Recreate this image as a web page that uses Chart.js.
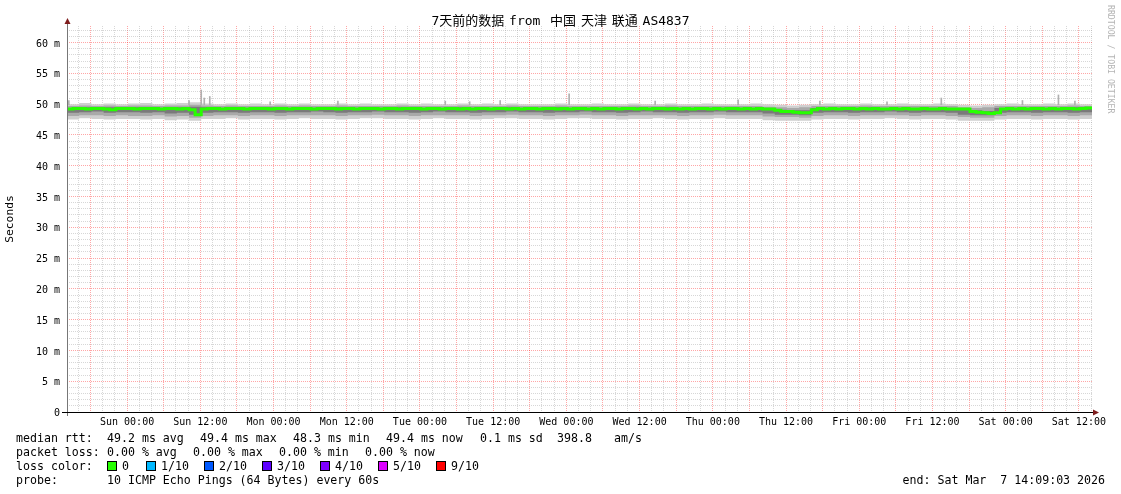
<!DOCTYPE html>
<html>
<head>
<meta charset="utf-8">
<script src="https://cdn.jsdelivr.net/npm/chart.js@4/dist/chart.umd.min.js"></script>
<style>
  body { margin: 0; background: #fff; }
  #wrap { position: relative; width: 1121px; height: 494px; overflow: hidden; font-family: "DejaVu Sans Mono", monospace; color: #000; }
  #c { position: absolute; left: 0; top: 0; }
  #title { position: absolute; left: 0; top: 13px; width: 1121px; text-align: center; font-size: 13px; line-height: 16px; word-spacing: -3px; white-space: pre; font-family: "DejaVu Sans Mono", "Noto Sans CJK SC", monospace; }
  #credit { position: absolute; left: 1106px; top: 5px; writing-mode: vertical-rl; font-size: 8.2px; color: #b4b4b4; white-space: pre; }
  .t { position: absolute; white-space: pre; font-size: 11.6px; line-height: 14px; }
  .box { position: absolute; top: 461px; width: 8px; height: 8px; border: 1px solid #000; }
</style>
</head>
<body>
<div id="wrap">
  <canvas id="c" width="1121" height="494"></canvas>
  <div id="title">7天前的数据 from  中国 天津 联通 AS4837</div>
  <div id="credit">RRDTOOL / TOBI OETIKER</div>

  <span class="t" style="left:16px;top:431px">median rtt:</span>
  <span class="t" style="left:107px;top:431px">49.2 ms avg</span>
  <span class="t" style="left:200px;top:431px">49.4 ms max</span>
  <span class="t" style="left:293px;top:431px">48.3 ms min</span>
  <span class="t" style="left:386px;top:431px">49.4 ms now</span>
  <span class="t" style="left:480px;top:431px">0.1 ms sd</span>
  <span class="t" style="left:557px;top:431px">398.8</span>
  <span class="t" style="left:614px;top:431px">am/s</span>

  <span class="t" style="left:16px;top:445px">packet loss:</span>
  <span class="t" style="left:107px;top:445px">0.00 % avg</span>
  <span class="t" style="left:193px;top:445px">0.00 % max</span>
  <span class="t" style="left:279px;top:445px">0.00 % min</span>
  <span class="t" style="left:365px;top:445px">0.00 % now</span>

  <span class="t" style="left:16px;top:459px">loss color:</span>
  <div id="loss"></div>

  <span class="t" style="left:16px;top:473px">probe:</span>
  <span class="t" style="left:107px;top:473px">10 ICMP Echo Pings (64 Bytes) every 60s</span>
  <span class="t" style="right:16px;top:473px">end: Sat Mar  7 14:09:03 2026</span>
</div>
<script>
// time axis: hours since Sat 14:09:03 (7 days back from the end stamp)
const HOURS = 168;
const FIRST_MIDNIGHT = 9 + 50 / 60 + 57 / 3600; // Sun 00:00
const xTickLabels = ['Sun 00:00', 'Sun 12:00', 'Mon 00:00', 'Mon 12:00', 'Tue 00:00', 'Tue 12:00',
  'Wed 00:00', 'Wed 12:00', 'Thu 00:00', 'Thu 12:00', 'Fri 00:00', 'Fri 12:00', 'Sat 00:00', 'Sat 12:00'];
const yTickValues = [0, 5, 10, 15, 20, 25, 30, 35, 40, 45, 50, 55, 60];
const yTickLabels = ['0', '5 m', '10 m', '15 m', '20 m', '25 m', '30 m', '35 m', '40 m', '45 m', '50 m', '55 m', '60 m'];

// median rtt, one value per hour (ms)
const medianRtt = [
  49.3, 49.2, 49.3, 49.3, 49.2, 49.3, 49.3, 49.2, 49.1, 49.3,
  49.3, 49.3, 49.2, 49.3, 49.3, 49.3, 49.2, 49.3, 49.3, 49.2,
  49.3, 49.1, 48.3, 49.2, 49.3, 49.3, 49.2, 49.3, 49.3, 49.3,
  49.2, 49.3, 49.3, 49.3, 49.2, 49.3, 49.3, 49.2, 49.3, 49.3,
  49.3, 49.2, 49.3, 49.3, 49.3, 49.2, 49.3, 49.3, 49.2, 49.3,
  49.3, 49.3, 49.2, 49.3, 49.3, 49.2, 49.3, 49.3, 49.3, 49.2,
  49.3, 49.3, 49.2, 49.3, 49.3, 49.2, 49.3, 49.2, 49.3, 49.3,
  49.2, 49.3, 49.3, 49.2, 49.3, 49.2, 49.3, 49.3, 49.2, 49.3,
  49.3, 49.2, 49.3, 49.2, 49.3, 49.3, 49.2, 49.3, 49.2, 49.3,
  49.3, 49.2, 49.3, 49.3, 49.2, 49.3, 49.2, 49.3, 49.3, 49.2,
  49.3, 49.2, 49.3, 49.2, 49.3, 49.3, 49.2, 49.3, 49.2, 49.3,
  49.3, 49.2, 49.3, 49.2, 49.3, 49.2, 49.2, 49.0, 48.8, 48.8,
  48.7, 48.6, 48.6, 49.1, 49.3, 49.2, 49.3, 49.2, 49.3, 49.3,
  49.2, 49.3, 49.2, 49.3, 49.2, 49.2, 49.3, 49.2, 49.3, 49.2,
  49.2, 49.3, 49.2, 49.2, 49.3, 49.2, 49.2, 49.2, 49.2, 48.8,
  48.7, 48.6, 48.5, 48.6, 49.2, 49.3, 49.2, 49.3, 49.2, 49.3,
  49.3, 49.2, 49.3, 49.2, 49.3, 49.3, 49.2, 49.3, 49.4
];

// smoke (ping spread), one value every 2 hours (ms)
const smokeMax = [
  50.1, 50.0, 50.2, 50.0, 50.1, 50.0, 50.1, 50.2, 50.0, 50.1,
  50.2, 50.3, 50.1, 50.0, 50.1, 50.0, 50.1, 50.0, 50.1, 50.0,
  50.1, 50.0, 50.0, 50.1, 50.0, 50.1, 50.0, 50.0, 50.1, 50.0,
  50.1, 50.0, 50.0, 50.1, 50.0, 50.1, 50.0, 50.1, 50.0, 50.0,
  50.0, 50.1, 50.0, 50.0, 50.1, 50.0, 50.0, 50.1, 50.0, 50.0,
  50.1, 50.0, 50.0, 50.1, 50.0, 50.0, 50.0, 50.1, 50.0, 49.9,
  49.8, 49.9, 50.0, 50.1, 50.0, 50.0, 50.1, 50.0, 50.0, 50.1,
  50.0, 50.0, 50.1, 50.0, 49.9, 49.8, 49.9, 50.0, 50.1, 50.0,
  50.0, 50.1, 50.0, 50.1, 50.0
];
const smokeHigh = [
  49.8, 49.7, 49.8, 49.7, 49.8, 49.7, 49.8, 49.8, 49.7, 49.8,
  49.8, 49.9, 49.8, 49.7, 49.8, 49.7, 49.7, 49.7, 49.8, 49.7,
  49.8, 49.7, 49.7, 49.8, 49.7, 49.7, 49.7, 49.7, 49.8, 49.7,
  49.7, 49.7, 49.7, 49.8, 49.7, 49.7, 49.7, 49.8, 49.7, 49.7,
  49.7, 49.8, 49.7, 49.7, 49.7, 49.7, 49.7, 49.8, 49.7, 49.7,
  49.8, 49.7, 49.7, 49.7, 49.7, 49.7, 49.7, 49.7, 49.6, 49.5,
  49.4, 49.5, 49.7, 49.7, 49.7, 49.7, 49.8, 49.7, 49.7, 49.7,
  49.7, 49.7, 49.7, 49.7, 49.5, 49.4, 49.5, 49.7, 49.7, 49.7,
  49.7, 49.7, 49.7, 49.8, 49.7
];
const smokeUpper = [
  49.5, 49.4, 49.5, 49.4, 49.5, 49.4, 49.5, 49.5, 49.4, 49.5,
  49.5, 49.6, 49.5, 49.4, 49.5, 49.4, 49.4, 49.5, 49.5, 49.4,
  49.5, 49.4, 49.4, 49.5, 49.4, 49.4, 49.4, 49.4, 49.5, 49.4,
  49.4, 49.4, 49.4, 49.5, 49.4, 49.4, 49.4, 49.5, 49.4, 49.4,
  49.4, 49.5, 49.4, 49.4, 49.4, 49.4, 49.4, 49.5, 49.4, 49.4,
  49.5, 49.4, 49.4, 49.4, 49.4, 49.4, 49.4, 49.4, 49.3, 49.1,
  49.0, 49.0, 49.4, 49.4, 49.4, 49.4, 49.5, 49.4, 49.4, 49.4,
  49.4, 49.4, 49.4, 49.4, 49.1, 49.0, 48.9, 49.4, 49.4, 49.4,
  49.4, 49.4, 49.4, 49.5, 49.4
];
const smokeLower = [
  48.7, 48.6, 48.7, 48.8, 48.6, 48.7, 48.7, 48.6, 48.7, 48.5,
  48.6, 48.3, 48.6, 48.7, 48.7, 48.6, 48.7, 48.7, 48.6, 48.7,
  48.7, 48.8, 48.7, 48.6, 48.7, 48.7, 48.8, 48.7, 48.7, 48.6,
  48.7, 48.8, 48.7, 48.7, 48.6, 48.7, 48.7, 48.8, 48.7, 48.7,
  48.6, 48.7, 48.7, 48.8, 48.7, 48.7, 48.6, 48.7, 48.8, 48.7,
  48.7, 48.6, 48.7, 48.7, 48.8, 48.7, 48.7, 48.7, 48.5, 48.3,
  48.3, 48.2, 48.6, 48.7, 48.7, 48.6, 48.7, 48.7, 48.8, 48.7,
  48.6, 48.7, 48.7, 48.6, 48.3, 48.2, 48.2, 48.6, 48.7, 48.7,
  48.6, 48.7, 48.7, 48.6, 48.7
];
const smokeLow = [
  48.2, 48.1, 48.2, 48.2, 48.1, 48.2, 48.1, 48.1, 48.2, 48.0,
  48.1, 47.8, 48.1, 48.2, 48.2, 48.1, 48.2, 48.2, 48.1, 48.2,
  48.2, 48.2, 48.2, 48.1, 48.2, 48.2, 48.3, 48.2, 48.2, 48.1,
  48.2, 48.2, 48.2, 48.2, 48.1, 48.2, 48.2, 48.3, 48.2, 48.2,
  48.1, 48.2, 48.2, 48.3, 48.2, 48.2, 48.1, 48.2, 48.2, 48.2,
  48.2, 48.1, 48.2, 48.2, 48.3, 48.2, 48.2, 48.2, 48.0, 47.9,
  47.9, 47.8, 48.1, 48.2, 48.2, 48.1, 48.2, 48.2, 48.2, 48.2,
  48.1, 48.2, 48.2, 48.1, 47.9, 47.8, 47.8, 48.1, 48.2, 48.2,
  48.1, 48.2, 48.2, 48.1, 48.2
];
const smokeMin = [
  47.6, 47.5, 47.7, 47.6, 47.5, 47.6, 47.6, 47.5, 47.6, 47.4,
  47.5, 47.3, 47.6, 47.6, 47.7, 47.5, 47.6, 47.6, 47.5, 47.6,
  47.7, 47.6, 47.6, 47.5, 47.6, 47.7, 47.7, 47.6, 47.6, 47.5,
  47.6, 47.7, 47.6, 47.6, 47.5, 47.6, 47.7, 47.7, 47.6, 47.6,
  47.5, 47.6, 47.7, 47.7, 47.6, 47.6, 47.5, 47.6, 47.6, 47.7,
  47.6, 47.5, 47.6, 47.6, 47.7, 47.6, 47.6, 47.6, 47.4, 47.3,
  47.3, 47.3, 47.5, 47.6, 47.6, 47.5, 47.6, 47.6, 47.7, 47.6,
  47.5, 47.6, 47.6, 47.5, 47.3, 47.3, 47.3, 47.5, 47.6, 47.6,
  47.5, 47.6, 47.6, 47.5, 47.6
];

// single slow pings sticking out of the smoke
const spikeHours = [0.3, 20.0, 22.0, 22.5, 23.4, 33.3, 44.4, 62.0, 66.0, 71.0, 82.3, 96.4, 110.0, 123.4, 134.4, 143.3, 156.6, 162.5, 165.2];
const spikeTops  = [50.6, 50.6, 52.3, 51.0, 51.25, 50.4, 50.5, 50.5, 50.4, 50.6, 51.7, 50.5, 50.7, 50.5, 50.4, 51.0, 50.6, 51.5, 50.5];

const lossLabels = ['0', '1/10', '2/10', '3/10', '4/10', '5/10', '9/10'];
const lossColors = ['#26ff00', '#00b8ff', '#0059ff', '#5e00ff', '#7e00ff', '#dd00ff', '#ff0000'];

// legend swatches
const lossBoxX = [107, 146, 204, 262, 320, 378, 436];
const loss = document.getElementById('loss');
lossLabels.forEach((lab, i) => {
  const b = document.createElement('span');
  b.className = 'box';
  b.style.left = lossBoxX[i] + 'px';
  b.style.background = lossColors[i];
  loss.appendChild(b);
  const s = document.createElement('span');
  s.className = 't';
  s.style.left = (lossBoxX[i] + 15) + 'px';
  s.style.top = '459px';
  s.textContent = lab;
  loss.appendChild(s);
});

// 2-hour grid, red every 6 hours, label every 12 hours
const xTicks = [];
for (let t = FIRST_MIDNIGHT - 8; t < HOURS; t += 2) xTicks.push(t);
const hourOf = t => ((Math.round(t - FIRST_MIDNIGHT) % 24) + 24) % 24;
const xLabelFor = t => {
  const h = Math.round(t - FIRST_MIDNIGHT);
  return (h >= 0 && h % 12 === 0) ? (xTickLabels[h / 12] || '') : '';
};

const hourly = arr => arr.map((v, i) => ({ x: i, y: v }));
const twoHourly = arr => arr.map((v, i) => ({ x: i * 2, y: v }));

const smoke = (arr, color) => ({
  data: twoHourly(arr), stepped: 'after', pointRadius: 0, borderWidth: 0,
  borderColor: 'rgba(0,0,0,0)', backgroundColor: color, fill: color ? '+1' : false
});

const MINOR = 'rgba(150,150,150,0.38)';
const MAJOR = 'rgba(255,0,0,0.35)';
const mono = { family: 'DejaVu Sans Mono', size: 10 };

const axesPlugin = {
  id: 'rrdAxes',
  afterDraw(chart) {
    const { ctx, chartArea: a } = chart;
    ctx.save();
    ctx.lineWidth = 1;
    ctx.strokeStyle = '#777';
    ctx.beginPath();
    ctx.moveTo(a.left + 0.5, a.bottom + 4);
    ctx.lineTo(a.left + 0.5, a.top - 3);
    ctx.stroke();
    ctx.strokeStyle = '#000';
    ctx.beginPath();
    ctx.moveTo(a.left - 5, a.bottom + 0.5);
    ctx.lineTo(a.right + 2, a.bottom + 0.5);
    ctx.stroke();
    ctx.fillStyle = '#7f1d1d';
    ctx.beginPath();
    ctx.moveTo(a.left + 0.5, a.top - 8);
    ctx.lineTo(a.left - 2.5, a.top - 2);
    ctx.lineTo(a.left + 3.5, a.top - 2);
    ctx.fill();
    ctx.beginPath();
    ctx.moveTo(a.right + 7, a.bottom + 0.5);
    ctx.lineTo(a.right + 1, a.bottom - 2.5);
    ctx.lineTo(a.right + 1, a.bottom + 3.5);
    ctx.fill();
    ctx.restore();
  }
};

new Chart(document.getElementById('c'), {
  type: 'line',
  data: {
    datasets: [
      { data: hourly(medianRtt), stepped: 'after', pointRadius: 0, borderWidth: 3, borderColor: '#26ff00', fill: false },
      { type: 'bar', data: spikeHours.map((t, i) => ({ x: t, y: [49.9, spikeTops[i]] })), backgroundColor: '#b0b0b0', barThickness: 1, grouped: false },
      smoke(smokeUpper, '#7a7a7a'),
      smoke(smokeLower, null),
      smoke(smokeHigh, '#a9a9a9'),
      smoke(smokeLow, null),
      smoke(smokeMax, '#cfcfcf'),
      smoke(smokeMin, null)
    ]
  },
  options: {
    responsive: false,
    animation: false,
    events: [],
    layout: { padding: { top: 26, right: 29, bottom: 0, left: 0 } },
    plugins: {
      legend: { display: false },
      tooltip: { enabled: false },
      filler: { drawTime: 'beforeDatasetsDraw' }
    },
    scales: {
      x: {
        type: 'linear', min: 0, max: HOURS, offset: false,
        afterFit: s => { s.height = 82; },
        afterBuildTicks: s => { s.ticks = xTicks.map(v => ({ value: v })); },
        ticks: {
          autoSkip: false, maxRotation: 0, minRotation: 0, padding: 4,
          color: '#000', font: mono,
          callback: (v, i) => xLabelFor(xTicks[i])
        },
        grid: {
          drawTicks: false, lineWidth: 1, offset: false,
          color: c => (c.tick && hourOf(c.tick.value) % 6 === 0) ? MAJOR : MINOR
        },
        border: { display: false, dash: [1, 1] }
      },
      y: {
        min: 0, max: 62.7,
        afterFit: s => { s.width = 67; },
        afterBuildTicks: s => {
          const t = [];
          for (let v = 0; v <= 62; v++) t.push({ value: v });
          s.ticks = t;
        },
        ticks: {
          autoSkip: false, padding: 7, labelOffset: 1.5, color: '#000', font: mono,
          callback: v => {
            const k = yTickValues.indexOf(v);
            return k >= 0 ? yTickLabels[k] : '';
          }
        },
        title: {
          display: true, text: 'Seconds', color: '#000',
          font: { family: 'DejaVu Sans Mono', size: 11.3 }, padding: { top: 3, bottom: 0 }
        },
        grid: {
          drawTicks: false, lineWidth: 1,
          color: c => (c.tick && c.tick.value % 5 === 0) ? MAJOR : MINOR
        },
        border: { display: false, dash: [1, 1] }
      }
    }
  },
  plugins: [axesPlugin]
});
</script>
</body>
</html>
